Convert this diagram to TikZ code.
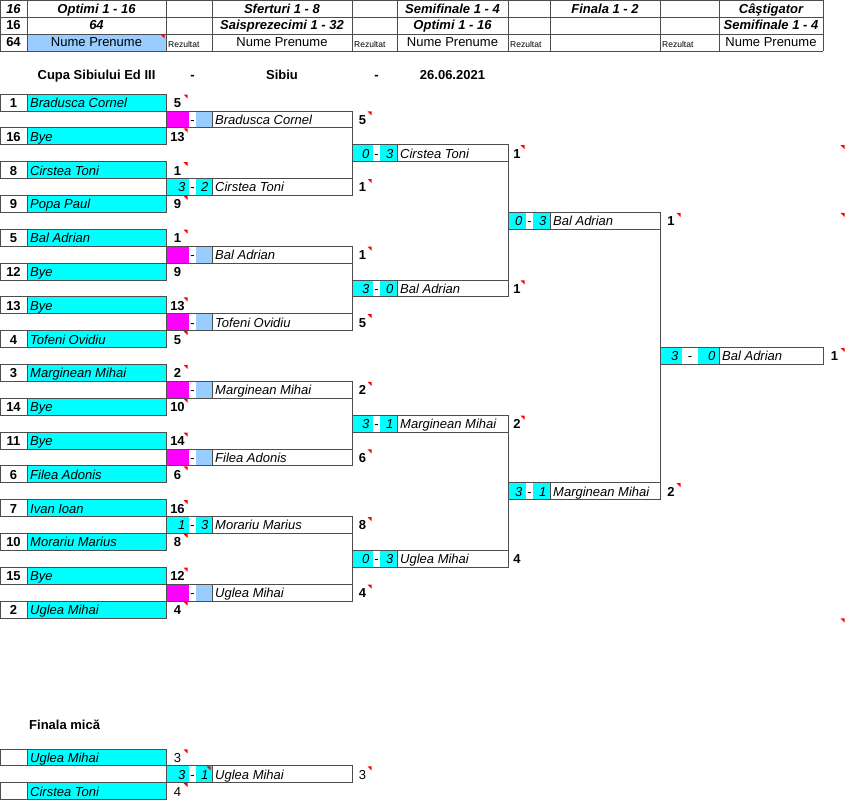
\documentclass[tikz,border=0pt]{standalone}
\usepackage{fontspec}
\setmainfont{Liberation Sans}
\usetikzlibrary{positioning}

\definecolor{cellcyan}{HTML}{00FFFF}
\definecolor{cellmag}{HTML}{FF00FF}
\definecolor{celllb}{HTML}{99CCFF}
\definecolor{linegray}{HTML}{4D4D4D}

\begin{document}
\begin{tikzpicture}[
    x=1pt, y=-1pt, % one unit = one pixel, y grows downwards
    cell/.style={draw=linegray, line width=0.75pt},
    mbox/.style={anchor=north west, inner sep=0pt, outer sep=0pt, minimum height=\rowh},
    seed/.style={inner sep=0pt, anchor=base, font=\fontsize{13}{15}\selectfont\bfseries},
    score/.style={seed},
    plain/.style={inner sep=0pt, anchor=base, font=\fontsize{13}{15}\selectfont},
    pname/.style={inner sep=0pt, anchor=base west, font=\fontsize{13}{15}\selectfont\itshape},
    mnum/.style={inner sep=0pt, anchor=base east, font=\fontsize{13}{15}\selectfont\itshape},
    hdr/.style={inner sep=0pt, anchor=base, font=\fontsize{13}{15}\selectfont\bfseries\itshape},
    smalltxt/.style={inner sep=0pt, anchor=base west, font=\fontsize{8.5}{10}\selectfont}
    ]
    % --- sheet grid ---
    \def\rowh{16.9} % row height
    \def\cornerflag#1#2{\fill[red] (#1-5.5,#2+0.5) -- (#1-1.5,#2+0.5) -- (#1-1.5,#2+4.5) -- cycle;}
    \useasboundingbox (0,0) rectangle (846,800);

    % 1. header table
    \fill[celllb] (27,34) rectangle (166,51);
    \foreach \y in {0.5,17,34,51} {\draw[cell] (0,\y) -- (823,\y);}
    \foreach \x in {0.5,27,166,212,352,397,508,550,660,719,823} {\draw[cell] (\x,0) -- (\x,51);}
    \cornerflag{166}{34}
    \foreach \x/\t [count=\i] in {13.5/16, 96.5/Optimi 1 - 16, 282/Sferturi 1 - 8, 452.5/Semifinale 1 - 4, 605/Finala 1 - 2, 771/Câştigator}
        {\node[hdr] (ha\i) at (\x,13.2) {\t};}
    \node[seed] (hb0) at (13.5,30) {16};
    \foreach \x/\t [count=\i] in {96.5/64, 282/Saisprezecimi 1 - 32, 452.5/Optimi 1 - 16, 771/Semifinale 1 - 4}
        {\node[hdr] (hb\i) at (\x,30) {\t};}
    \node[seed] (hc0) at (13.5,47) {64};
    \foreach \x [count=\i] in {96.5,282,452.5,771}
        {\node[plain] (hc\i) at (\x,47) {Nume Prenume};}
    \foreach \x [count=\i] in {168,354,510,662}
        {\node[smalltxt] (hr\i) at (\x,47.5) {Rezultat};}

    % 2. title line
    \foreach \x/\t [count=\i] in {96.5/Cupa Sibiului Ed III, 192.5/-, 282/Sibiu, 376.5/-, 452.5/26.06.2021}
        {\node[seed] (t\i) at (\x,79.5) {\t};}

    % 3. players of the first round
    \foreach \k/\seed/\pl/\res/\tri in {0/1/Bradusca Cornel/5/1, 2/16/Bye/13/1, 4/8/Cirstea Toni/1/1,
        6/9/Popa Paul/9/1, 8/5/Bal Adrian/1/1, 10/12/Bye/9/0, 12/13/Bye/13/1, 14/4/Tofeni Ovidiu/5/1,
        16/3/Marginean Mihai/2/1, 18/14/Bye/10/1, 20/11/Bye/14/1, 22/6/Filea Adonis/6/1,
        24/7/Ivan Ioan/16/1, 26/10/Morariu Marius/8/1, 28/15/Bye/12/1, 30/2/Uglea Mihai/4/1} {
        \pgfmathsetmacro\yt{94+\rowh*\k}
        \fill[cellcyan] (27,\yt) rectangle (166,\yt+\rowh);
        \draw[cell] (0,\yt) rectangle (166,\yt+\rowh) (27,\yt) -- (27,\yt+\rowh);
        \node[seed] (s\k) at (13.5,\yt+13.4) {\seed};
        \node[pname] (p\k) at (30,\yt+13.4) {\pl};
        \node[score] (c\k) at (177.5,\yt+13.4) {\res};
        \ifnum\tri=1 \cornerflag{189}{\yt}\fi
    }

    % 4. matches, round index r = 0..3
    \foreach \k/\r/\ca/\sa/\cb/\sbb/\pl/\res/\tri in {
        1/0/cellmag/{}/celllb/{}/Bradusca Cornel/5/1, 5/0/cellcyan/3/cellcyan/2/Cirstea Toni/1/1,
        9/0/cellmag/{}/celllb/{}/Bal Adrian/1/1, 13/0/cellmag/{}/celllb/{}/Tofeni Ovidiu/5/1,
        17/0/cellmag/{}/celllb/{}/Marginean Mihai/2/1, 21/0/cellmag/{}/celllb/{}/Filea Adonis/6/1,
        25/0/cellcyan/1/cellcyan/3/Morariu Marius/8/1, 29/0/cellmag/{}/celllb/{}/Uglea Mihai/4/1,
        3/1/cellcyan/0/cellcyan/3/Cirstea Toni/1/1, 11/1/cellcyan/3/cellcyan/0/Bal Adrian/1/1,
        19/1/cellcyan/3/cellcyan/1/Marginean Mihai/2/1, 27/1/cellcyan/0/cellcyan/3/Uglea Mihai/4/0,
        7/2/cellcyan/0/cellcyan/3/Bal Adrian/1/1, 23/2/cellcyan/3/cellcyan/1/Marginean Mihai/2/1,
        15/3/cellcyan/3/cellcyan/0/Bal Adrian/1/1} {
        \pgfmathsetmacro\yt{94+\rowh*\k}
        \pgfmathsetmacro\xc{{166,352,508,660}[\r]}
        \pgfmathsetmacro\xd{{189,373,526,682}[\r]}
        \pgfmathsetmacro\xe{{196,380,533,698}[\r]}
        \pgfmathsetmacro\xf{{212,397,550,719}[\r]}
        \pgfmathsetmacro\xg{{352,508,660,823}[\r]}
        \pgfmathsetmacro\xh{{373,526,682,846}[\r]}
        \fill[\ca] (\xc,\yt) rectangle (\xd,\yt+\rowh);
        \fill[\cb] (\xe,\yt) rectangle (\xf,\yt+\rowh);
        \node[cell, mbox, minimum width={\xg-\xc}] (m\k) at (\xc,\yt) {};
        \draw[cell] (\xf,\yt) -- (\xf,\yt+\rowh);
        \node[mnum] (ma\k) at (\xd-3.5,\yt+13.4) {\sa};
        \node[plain] (md\k) at ({(\xd+\xe)/2},\yt+13.4) {-};
        \node[mnum] (mb\k) at (\xf-3.5,\yt+13.4) {\sbb};
        \node[pname] (mn\k) at (\xf+3,\yt+13.4) {\pl};
        \node[score] (ms\k) at ({(\xg+\xh)/2},\yt+13.4) {\res};
        \ifnum\tri=1 \cornerflag{\xh}{\yt}\fi
    }

    % 5. bracket connectors
    \foreach \u/\v in {1/5, 9/13, 17/21, 25/29, 3/11, 19/27, 7/23}
        {\draw[cell] (m\u.north east) -- (m\v.south east);}
    \foreach \k in {3,7,31} {\cornerflag{846}{94+\rowh*\k}}

    % 6. Finala mica
    \node[seed, anchor=base west] (fm) at (29,729.5) {Finala mică};
    \foreach \yt/\pl/\res [count=\i] in {748.9/Uglea Mihai/3, 782.7/Cirstea Toni/4} {
        \fill[cellcyan] (27,\yt) rectangle (166,\yt+\rowh);
        \draw[cell] (0,\yt) rectangle (166,\yt+\rowh) (27,\yt) -- (27,\yt+\rowh);
        \node[pname] (fp\i) at (30,\yt+13.4) {\pl};
        \node[plain] (fc\i) at (177.5,\yt+13.4) {\res};
        \cornerflag{189}{\yt}
    }
    \def\yt{765.8}
    \fill[cellcyan] (166,\yt) rectangle (189,\yt+\rowh) (196,\yt) rectangle (212,\yt+\rowh);
    \node[cell, mbox, minimum width=186] (fmm) at (166,\yt) {};
    \draw[cell] (212,\yt) -- (212,\yt+\rowh);
    \node[mnum] (fma) at (185.5,\yt+13.4) {3};
    \node[plain] (fmd) at (192.5,\yt+13.4) {-};
    \node[mnum] (fmb) at (208.5,\yt+13.4) {1};
    \node[pname] (fmn) at (215,\yt+13.4) {Uglea Mihai};
    \node[plain] (fms) at (362.5,\yt+13.4) {3};
    \cornerflag{212}{\yt} \cornerflag{373}{\yt}

\end{tikzpicture}
\end{document}
